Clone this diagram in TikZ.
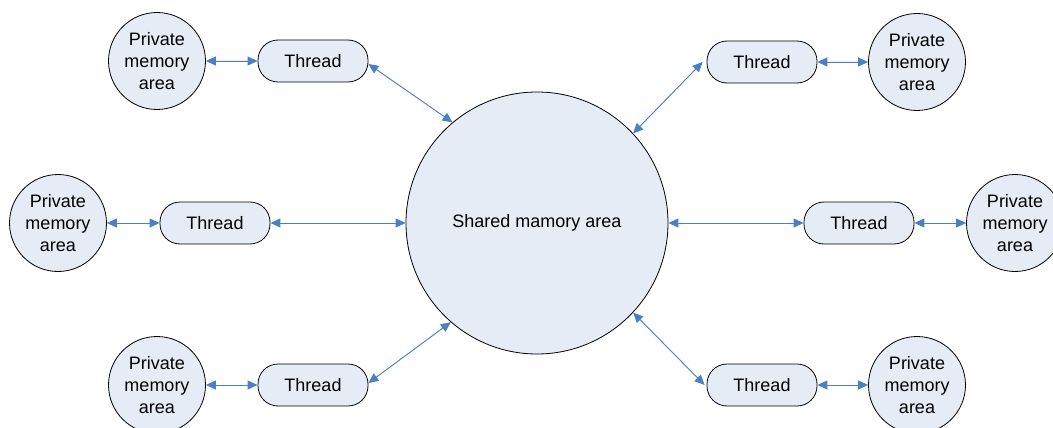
\documentclass[tikz,border=0pt]{standalone}
\usepackage{fontspec}
\setmainfont{Liberation Sans}
\usetikzlibrary{arrows.meta}
\definecolor{nodefill}{RGB}{230,236,246}
\definecolor{linkblue}{RGB}{74,126,197}
\begin{document}
\begin{tikzpicture}[x=1pt,y=-1pt,
  every node/.style={font=\fontsize{18}{22}\selectfont},
  shared/.style={circle,draw=black,line width=0.8pt,fill=nodefill,minimum size=262pt,inner sep=0pt},
  private/.style={circle,draw=black,line width=0.8pt,fill=nodefill,minimum size=97pt,inner sep=0pt,align=center},
  thread/.style={rectangle,rounded corners=20pt,draw=black,line width=0.8pt,fill=nodefill,minimum width=110pt,minimum height=42pt,inner sep=0pt},
  link/.style={draw=linkblue,line width=0.9pt,{Triangle[length=10pt,width=9pt]}-{Triangle[length=10pt,width=9pt]},fill=linkblue}]
\path[use as bounding box] (0,0) rectangle (1053,428);
\begin{scope}
\clip (0,0) rectangle (1053,428);
% central shared region
\node[shared] (sh) at (537,223) {Shared mamory area};
% threads
\node[thread] (t1) at (313,61) {Thread};
\node[thread] (t2) at (762,62) {Thread};
\node[thread] (t3) at (215,223) {Thread};
\node[thread] (t4) at (859,223) {Thread};
\node[thread] (t5) at (313,385) {Thread};
\node[thread] (t6) at (762,385) {Thread};
% private areas
\node[private] (p1) at (157,61) {Private\\memory\\area};
\node[private] (p2) at (917,62) {Private\\memory\\area};
\node[private] (p3) at (58,223) {Private\\memory\\area};
\node[private] (p4) at (1015,223) {Private\\memory\\area};
\node[private] (p5) at (157,385) {Private\\memory\\area};
\node[private] (p6) at (917,385) {Private\\memory\\area};
% links between private areas and threads
\draw[link] (p1.east) -- (t1.west);
\draw[link] (t2.east) -- (p2.west);
\draw[link] (p3.east) -- (t3.west);
\draw[link] (t4.east) -- (p4.west);
\draw[link] (p5.east) -- (t5.west);
\draw[link] (t6.east) -- (p6.west);
% links between threads and the shared area
\draw[link] ([yshift=-3pt]t1.east) -- (sh.130);
\draw[link] ([xshift=-4pt]t2.west) -- (sh.43);
\draw[link] (t3.east) -- (sh.west);
\draw[link] (sh.east) -- (t4.west);
\draw[link] ([yshift=2pt]t5.east) -- (sh.-131);
\draw[link] (sh.-43) -- ([xshift=-2pt]t6.west);
\end{scope}
\end{tikzpicture}
\end{document}
